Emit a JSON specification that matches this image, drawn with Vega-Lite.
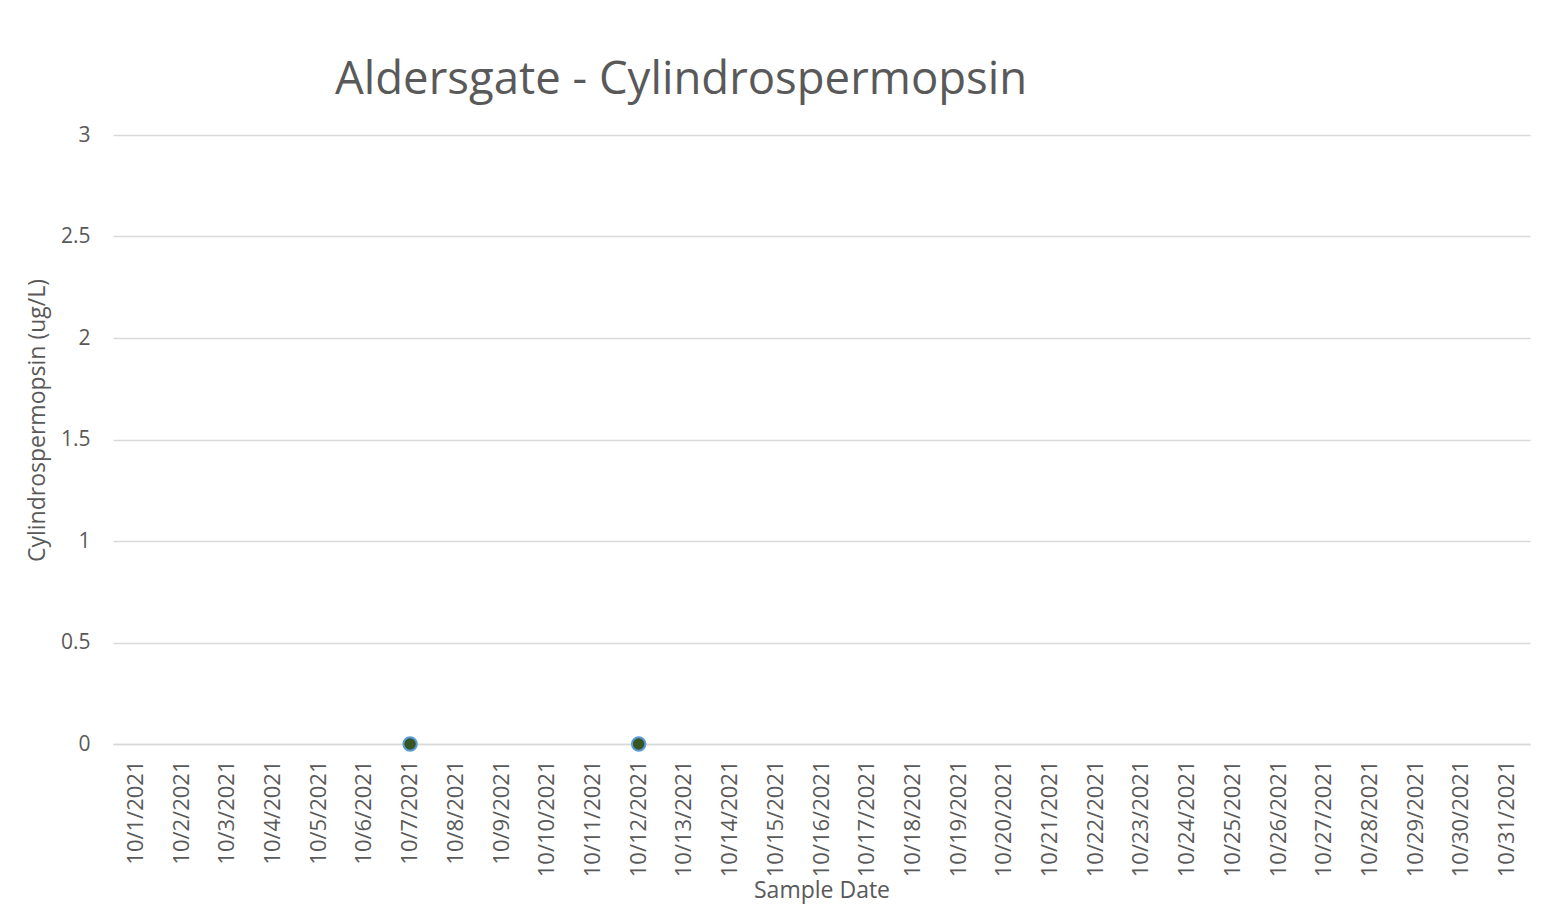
{
  "$schema": "https://vega.github.io/schema/vega-lite/v6.json",
  "autosize": "none",
  "width": 1417,
  "height": 609,
  "padding": {"left": 113, "top": 135, "right": 24, "bottom": 163},
  "background": "white",
  "title": {
    "text": "Aldersgate - Cylindrospermopsin",
    "anchor": "start",
    "frame": "group",
    "dx": 222,
    "dy": 41,
    "font": "Open Sans",
    "fontSize": 45.5,
    "fontWeight": "normal",
    "color": "#595959",
    "baseline": "alphabetic",
    "offset": 26
  },
  "config": {
    "view": {"stroke": null},
    "font": "Open Sans"
  },
  "data": {
    "values": [
      {"date": "10/7/2021", "value": 0},
      {"date": "10/12/2021", "value": 0}
    ]
  },
  "mark": {"type": "point", "filled": true, "fill": "#375623", "stroke": "#5B9BD5", "strokeWidth": 2, "size": 180, "opacity": 1},
  "encoding": {
    "x": {
      "field": "date",
      "type": "ordinal",
      "sort": null,
      "scale": {
        "type": "band",
        "paddingInner": 0,
        "paddingOuter": 0,
        "domain": ["10/1/2021","10/2/2021","10/3/2021","10/4/2021","10/5/2021","10/6/2021","10/7/2021","10/8/2021","10/9/2021","10/10/2021","10/11/2021","10/12/2021","10/13/2021","10/14/2021","10/15/2021","10/16/2021","10/17/2021","10/18/2021","10/19/2021","10/20/2021","10/21/2021","10/22/2021","10/23/2021","10/24/2021","10/25/2021","10/26/2021","10/27/2021","10/28/2021","10/29/2021","10/30/2021","10/31/2021"]
      },
      "axis": {
        "title": "Sample Date",
        "titleFont": "Open Sans",
        "titleFontSize": 23,
        "titleFontWeight": "normal",
        "titleColor": "#595959",
        "titleBaseline": "alphabetic",
        "titleY": 153,
        "labelAngle": -90,
        "labelFont": "Open Sans",
        "labelFontSize": 22,
        "labelColor": "#595959",
        "labelPadding": 16,
        "labelOverlap": false,
        "ticks": false,
        "domain": true,
        "domainColor": "#d9d9d9",
        "domainWidth": 1.5,
        "grid": false
      }
    },
    "y": {
      "field": "value",
      "type": "quantitative",
      "scale": {"domain": [0, 3], "nice": false, "zero": true},
      "axis": {
        "title": "Cylindrospermopsin (ug/L)",
        "titleFont": "Open Sans",
        "titleFontSize": 23,
        "titleFontWeight": "normal",
        "titleColor": "#595959",
        "titleX": -76,
        "titleY": 285,
        "titleAngle": -90,
        "titleBaseline": "middle",
        "titleAlign": "center",
        "values": [0, 0.5, 1, 1.5, 2, 2.5, 3],
        "format": "~g",
        "labelFont": "Open Sans",
        "labelFontSize": 21,
        "labelColor": "#595959",
        "labelPadding": 23,
        "ticks": false,
        "domain": false,
        "grid": true,
        "gridColor": "#d9d9d9",
        "gridWidth": 1.5
      }
    }
  }
}
